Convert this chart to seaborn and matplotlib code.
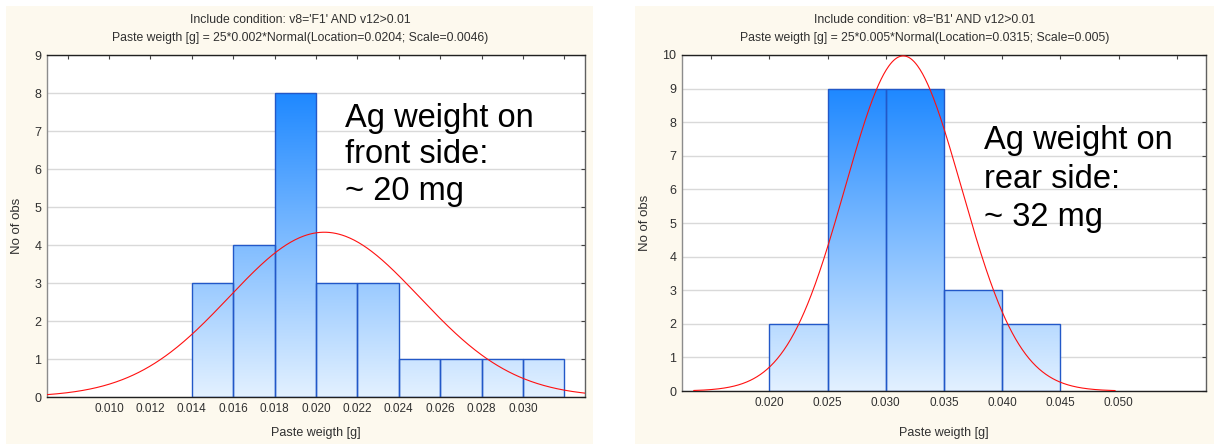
import numpy as np
import pandas as pd
import matplotlib
matplotlib.use("Agg")
import matplotlib.pyplot as plt
import seaborn as sns
from matplotlib.colors import LinearSegmentedColormap
from matplotlib.patches import Rectangle

# ---------------- data ----------------
front_bin_starts = [0.014, 0.016, 0.018, 0.020, 0.022, 0.024, 0.026, 0.028, 0.030]
front_counts = [3, 4, 8, 3, 3, 1, 1, 1, 1]
front_bin_width = 0.002
front_loc, front_scale = 0.0204, 0.0046

rear_bin_starts = [0.020, 0.025, 0.030, 0.035, 0.040]
rear_counts = [2, 9, 9, 3, 2]
rear_bin_width = 0.005
rear_loc, rear_scale = 0.0315, 0.005

n_obs = 25

front_xticks = [0.008, 0.010, 0.012, 0.014, 0.016, 0.018, 0.020, 0.022, 0.024,
                0.026, 0.028, 0.030, 0.032]
front_xticklabels = ["", "0.010", "0.012", "0.014", "0.016", "0.018", "0.020", "0.022",
                     "0.024", "0.026", "0.028", "0.030", ""]
rear_xticks = [0.015, 0.020, 0.025, 0.030, 0.035, 0.040, 0.045, 0.050, 0.055]
rear_xticklabels = ["", "0.020", "0.025", "0.030", "0.035", "0.040", "0.045", "0.050", ""]

front_titles = ["Include condition: v8='F1' AND v12>0.01",
                "Paste weigth [g] = 25*0.002*Normal(Location=0.0204; Scale=0.0046)"]
rear_titles = ["Include condition: v8='B1' AND v12>0.01",
               "Paste weigth [g] = 25*0.005*Normal(Location=0.0315; Scale=0.005)"]
front_note = ["Ag weight on", "front side:", "~ 20 mg"]
rear_note = ["Ag weight on", "rear side:", "~ 32 mg"]
x_label = "Paste weigth [g]"
y_label = "No of obs"

# ---------------- style ----------------
sns.set_style("white")
plt.rcParams["font.family"] = ["Liberation Sans", "DejaVu Sans"]

W, H = 1214, 444
CREAM = "#fdf9ee"
EDGE = "#2258c8"
cmap = LinearSegmentedColormap.from_list("bluegrad", ["#e3f1ff", "#1e88ff"])


def fx(px):
    return px / W


def fy(py):
    return 1 - py / H


fig = plt.figure(figsize=(W / 100, H / 100), dpi=100)
fig.patch.set_facecolor("white")

for (x0, x1) in [(6, 593), (635, 1214)]:
    fig.add_artist(Rectangle((fx(x0), 0), fx(x1) - fx(x0), fy(6),
                             transform=fig.transFigure, facecolor=CREAM,
                             edgecolor="none", zorder=-5))


def panel(box, starts, counts, width, loc, scale, xlim, ytop, curve_rng,
          xticks, xticklabels, titles, title_cx, note, note_x, note_ys,
          ylab_px, xlab_px):
    left, top, right, bottom = box
    ax = fig.add_axes([fx(left), fy(bottom), fx(right) - fx(left), fy(top) - fy(bottom)])
    ax.set_facecolor("white")

    edges = list(starts) + [starts[-1] + width]
    df = pd.DataFrame({"x": np.array(starts) + width / 2, "w": counts})
    sns.histplot(data=df, x="x", weights="w", bins=edges, ax=ax, stat="count",
                 element="bars", fill=True, edgecolor=EDGE, linewidth=1.0)
    hmax = max(counts)
    grad = np.linspace(0, 1, 256).reshape(-1, 1)
    for p in list(ax.patches):
        p.set_facecolor("none")
        p.set_edgecolor(EDGE)
        p.set_alpha(1)
        p.set_zorder(2)
        im = ax.imshow(grad, extent=(xlim[0], xlim[1], 0, hmax), origin="lower",
                       cmap=cmap, vmin=0, vmax=1, aspect="auto", zorder=1.5,
                       interpolation="bilinear")
        im.set_clip_path(p)

    xs = np.linspace(curve_rng[0], curve_rng[1], 500)
    ys = n_obs * width * np.exp(-0.5 * ((xs - loc) / scale) ** 2) / (scale * np.sqrt(2 * np.pi))
    sns.lineplot(x=xs, y=ys, ax=ax, color="#ff1010", linewidth=0.8, zorder=3)

    ax.set_xlim(*xlim)
    ax.set_ylim(0, ytop)
    ax.set_xticks(xticks)
    ax.set_xticklabels(xticklabels)
    ax.set_yticks(range(0, ytop + 1))
    ax.tick_params(direction="in", length=3, width=0.8, top=True, right=True,
                   colors="#404040", labelcolor="#303030", pad=4)
    ax.tick_params(axis="x", labelsize=8.5)
    ax.tick_params(axis="y", labelsize=9)
    ax.set_axisbelow(True)
    ax.yaxis.grid(True, color="#d9d9d9", linewidth=1)
    ax.xaxis.grid(False)
    for side, col in [("left", "#8c8c8c"), ("right", "#606060"),
                      ("top", "#202020"), ("bottom", "#202020")]:
        ax.spines[side].set_visible(True)
        ax.spines[side].set_color(col)
        ax.spines[side].set_linewidth(1)

    ax.set_xlabel(x_label, fontsize=9, color="#303030")
    ax.set_ylabel(y_label, fontsize=9.5, color="#303030")
    ax.xaxis.set_label_coords(0.5, -(xlab_px - bottom) / (bottom - top))
    ax.yaxis.set_label_coords((ylab_px - left) / (right - left), 0.5)

    fig.text(fx(title_cx), fy(20), titles[0], ha="center", va="center",
             fontsize=8.8, color="#303030")
    fig.text(fx(title_cx), fy(38), titles[1], ha="center", va="center",
             fontsize=8.8, color="#303030")
    for line, yb in zip(note, note_ys):
        fig.text(fx(note_x), fy(yb), line, ha="left", va="baseline",
                 fontsize=23.5, color="black")
    return ax


panel((47, 55, 585, 397), front_bin_starts, front_counts, front_bin_width,
      front_loc, front_scale, (0.007, 0.033), 9, (0.007, 0.033),
      front_xticks, front_xticklabels, front_titles, 300,
      front_note, 345, [127, 163, 200], 23, 427)

panel((682, 55, 1206, 391), rear_bin_starts, rear_counts, rear_bin_width,
      rear_loc, rear_scale, (0.0125, 0.0575), 10, (0.0135, 0.0497),
      rear_xticks, rear_xticklabels, rear_titles, 925,
      rear_note, 984, [149, 188, 226], 651, 427)

fig.savefig("out.png", dpi=100, facecolor="white")
